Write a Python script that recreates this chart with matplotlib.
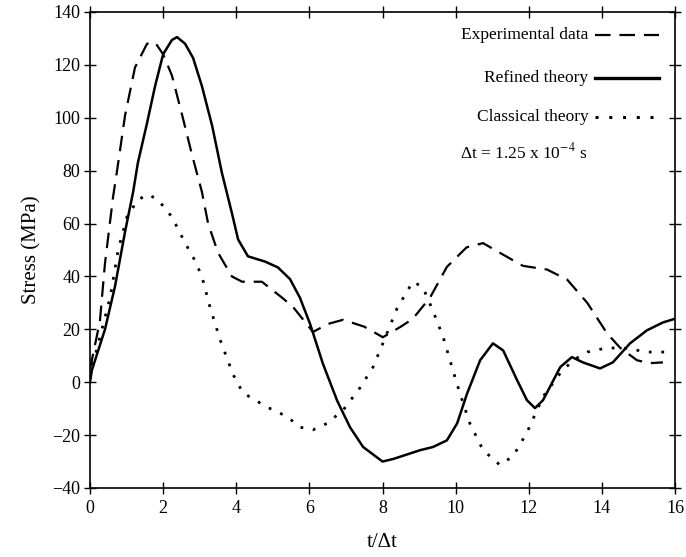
import matplotlib
matplotlib.use('Agg')
import matplotlib.pyplot as plt

plt.rcParams['font.family'] = ['Liberation Serif', 'DejaVu Serif']
plt.rcParams['mathtext.fontset'] = 'stix'

# values
t_exp = [0, 0.27, 0.41, 0.63, 0.74, 0.96, 1.23, 1.56, 1.78, 2.0, 2.24, 2.52, 2.79,
         3.06, 3.23, 3.5, 3.88, 4.16, 4.7, 5.25, 5.55, 6.1, 6.5, 6.92, 7.5, 8.01,
         8.5, 8.83, 9.3, 9.76, 10.3, 10.75, 11.2, 11.84, 12.5, 13.05, 13.6, 14.14,
         14.5, 14.96, 15.3, 15.67]
s_exp = [5, 23, 45, 70, 80, 101, 119, 128, 128.5, 124, 116, 101, 86,
         72, 60, 49, 40, 38, 38, 32, 28.5, 19, 22, 23.6, 21, 17,
         21, 24, 32, 43.6, 51, 52.6, 49, 44, 42.6, 38.8, 30, 18.5,
         13, 8.3, 7.2, 7.5]

t_ref = [0, 0.05, 0.41, 0.68, 0.96, 1.18, 1.31, 1.56, 1.78, 2.0, 2.24, 2.38, 2.6,
         2.82, 3.06, 3.34, 3.61, 3.88, 4.05, 4.32, 4.79, 5.14, 5.47, 5.74, 6.02,
         6.37, 6.76, 7.11, 7.47, 8.0, 8.3, 9.03, 9.38, 9.76, 10.04, 10.31, 10.67,
         11.02, 11.3, 11.68, 11.95, 12.17, 12.39, 12.86, 13.18, 13.48, 13.95, 14.3,
         14.77, 15.23, 15.67, 16.0]
s_ref = [0, 4.5, 20, 36, 57, 72, 83, 98, 112, 124, 129.4, 130.5, 128,
         122.6, 112, 97, 79, 64, 54, 47.6, 45.6, 43.4, 39, 32, 22,
         7, -7, -17, -24.5, -30, -29, -25.7, -24.5, -22, -15.6, -4.4, 8.3,
         14.7, 12, 0.8, -6.8, -9.8, -6.8, 5.7, 9.5, 7.5, 5.2, 7.5,
         14.7, 19.6, 22.6, 24]

t_cls = [0, 0.14, 0.55, 0.77, 1.01, 1.31, 1.59, 1.86, 2.24, 2.6, 2.87, 3.06, 3.28,
         3.56, 3.91, 4.18, 4.84, 5.39, 5.74, 6.1, 6.48, 6.92, 7.39, 7.74, 8.01,
         8.4, 8.83, 9.1, 9.38, 9.66, 9.9, 10.12, 10.39, 10.75, 11.21, 11.57,
         11.95, 12.39, 12.86, 13.21, 13.6, 14.14, 14.69, 15.23, 15.9]
s_cls = [2, 10, 32, 50, 62.5, 69, 71, 69, 62.5, 52.7, 46, 40, 28.5,
         16, 3, -4, -9.4, -13, -17, -18, -15.6, -10.6, -2, 5.7, 14.7,
         28, 38, 36, 27, 17, 5.7, -4.4, -15.6, -25.7, -31.3, -28,
         -19, -5.5, 3.4, 8.3, 11.4, 13, 12.8, 11.4, 11.4]

fig = plt.figure(figsize=(6.86, 5.57), dpi=100)
ax = fig.add_axes([0.1312, 0.1239, 0.8528, 0.8546])

dash = (0, (7, 4))
dot = (0, (1, 3.5))
ax.plot(t_exp, s_exp, color='black', lw=1.6, linestyle=dash)
ax.plot(t_ref, s_ref, color='black', lw=1.8, linestyle='-')
ax.plot(t_cls, s_cls, color='black', lw=2.0, linestyle=dot)

ax.set_xlim(0, 16)
ax.set_ylim(-40, 140)
ax.set_xticks(range(0, 17, 2))
ax.set_yticks(range(-40, 141, 20))
ax.tick_params(direction='inout', length=8, width=1, labelsize=13,
               top=True, right=True, pad=5)
ax.tick_params(axis='y', pad=3)
for sp in ax.spines.values():
    sp.set_linewidth(1.2)

ax.set_xlabel('t/Δt', fontsize=15, labelpad=11)
ax.set_ylabel('Stress (MPa)', fontsize=15, labelpad=8)

# legend drawn by hand: text right-aligned, samples to the right
labels = ['Experimental data', 'Refined theory', 'Classical theory']
styles = [(dash, 1.6), ('-', 2.4), (dot, 2.2)]
ypos = [0.952, 0.861, 0.779]
for lab, (ls, lw), y in zip(labels, styles, ypos):
    ax.text(0.852, y, lab, transform=ax.transAxes, ha='right', va='center',
            fontsize=12.5)
    ax.plot([0.863, 0.972], [y, y], transform=ax.transAxes, color='black',
            linestyle=ls, lw=lw)
ax.text(0.632, 0.704, r'Δt = 1.25 x 10$^{-4}$ s', transform=ax.transAxes,
        ha='left', va='center', fontsize=12.5)

fig.savefig('out.png', dpi=100)
